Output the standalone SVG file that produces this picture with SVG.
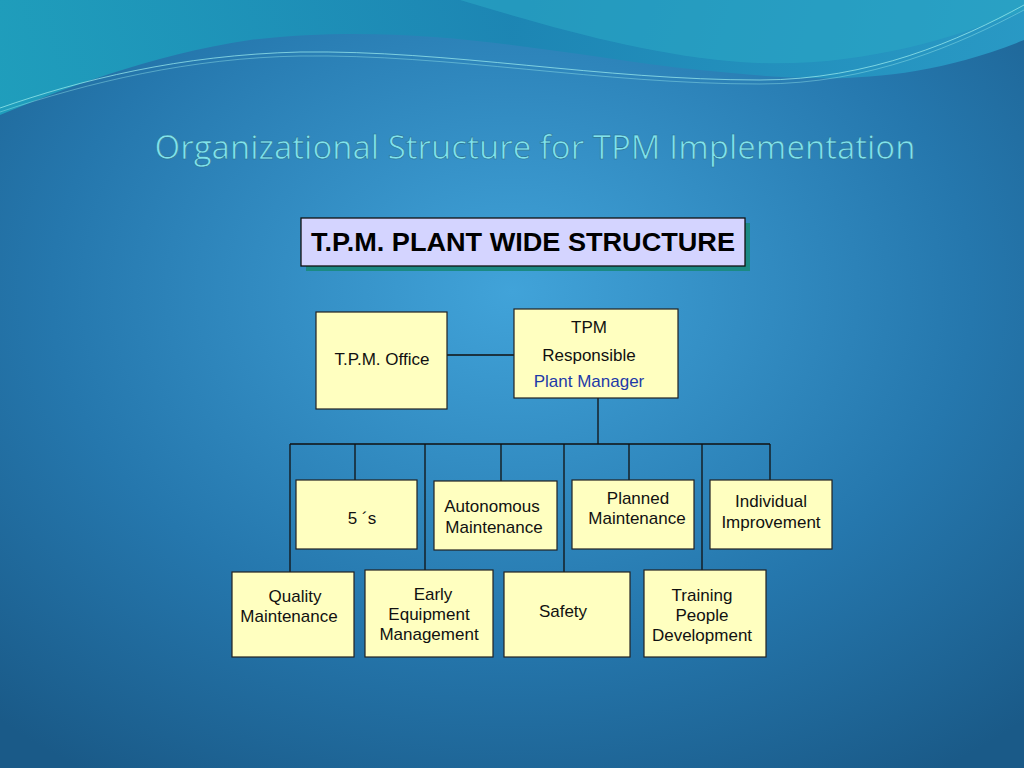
<svg xmlns="http://www.w3.org/2000/svg" width="1024" height="768" viewBox="0 0 1024 768">
<defs>
<radialGradient id="bg" cx="0.5" cy="0.38" r="0.75">
<stop offset="0" stop-color="#41a3d9"/>
<stop offset="0.6" stop-color="#2577ad"/>
<stop offset="1" stop-color="#1a5a88"/>
</radialGradient>
<linearGradient id="wave" x1="0" y1="0" x2="1" y2="0">
<stop offset="0" stop-color="#1fa3bf"/>
<stop offset="0.5" stop-color="#1b86b3"/>
<stop offset="1" stop-color="#2a9ec9"/>
</linearGradient>
<style>
.box{fill:#ffffc0;stroke:#222;stroke-width:1.2}
.t{font-family:"Liberation Sans",Arial,sans-serif;font-size:17px;fill:#111;text-anchor:middle}
.c{stroke:#111;stroke-width:1.3;fill:none}
</style>
</defs>
<rect width="1024" height="768" fill="url(#bg)"/>
<path d="M0,0 H1024 V40 C900,90 800,80 700,70 C560,55 420,20 250,40 C150,55 60,90 0,115 Z" fill="url(#wave)" opacity="0.9"/>
<path d="M460,0 C560,30 650,55 740,62 C850,70 950,40 1024,10 V0 Z" fill="#2aa7c4" opacity="0.6"/>
<path d="M0,108 C80,80 180,55 300,52 C450,50 600,80 760,80 C870,80 960,40 1024,5" stroke="#9ff0f0" stroke-width="1" fill="none" opacity="0.7"/>
<path d="M0,112 C90,82 190,58 300,56 C450,54 600,84 760,84 C870,84 960,44 1024,10" stroke="#9ff0f0" stroke-width="0.8" fill="none" opacity="0.5"/>
<text x="535" y="159" font-family="'Open Sans','Noto Sans',sans-serif" font-size="33" fill="#7fe3ec" text-anchor="middle" stroke="#2a6f90" stroke-width="0.6">Organizational Structure for TPM Implementation</text>
<g id="header">
<rect x="306" y="223" width="444" height="48" fill="#1b8a84"/>
<rect x="301" y="218" width="444" height="48" fill="#d4d4ff" stroke="#111" stroke-width="1.3"/>
<text x="523" y="251" font-family="'Liberation Sans',Arial,sans-serif" font-size="25" font-weight="bold" fill="#000" text-anchor="middle" textLength="424" lengthAdjust="spacingAndGlyphs">T.P.M. PLANT WIDE STRUCTURE</text>
</g>
<g id="connectors">
<path class="c" d="M447,355 H514 M598,398 V444 M290,444 H770 M290,444 V572 M355,444 V480 M425,444 V570 M501,444 V481 M564,444 V572 M629,444 V480 M702,444 V570 M770,444 V480"/>
</g>
<g id="office"><rect class="box" x="316" y="312" width="131" height="97"/><text class="t" x="382" y="365">T.P.M. Office</text></g>
<g id="tpm"><rect class="box" x="514" y="309" width="164" height="89"/>
<text class="t" x="589" y="333" font-size="18">TPM</text>
<text class="t" x="589" y="361" font-size="18">Responsible</text>
<text class="t" x="589" y="387" font-size="18" style="fill:#1e3aa8">Plant Manager</text></g>
<g id="fives"><rect class="box" x="296" y="480" width="121" height="69"/><text class="t" x="362" y="524">5 ´s</text></g>
<g id="autonomous"><rect class="box" x="434" y="481" width="123" height="69"/><text class="t" x="492" y="512">Autonomous</text><text class="t" x="494" y="533">Maintenance</text></g>
<g id="planned"><rect class="box" x="572" y="480" width="122" height="69"/><text class="t" x="638" y="504">Planned</text><text class="t" x="637" y="524">Maintenance</text></g>
<g id="individual"><rect class="box" x="710" y="480" width="122" height="69"/><text class="t" x="771" y="507">Individual</text><text class="t" x="771" y="528">Improvement</text></g>
<g id="quality"><rect class="box" x="232" y="572" width="122" height="85"/><text class="t" x="295" y="602">Quality</text><text class="t" x="289" y="622">Maintenance</text></g>
<g id="early"><rect class="box" x="365" y="570" width="128" height="87"/><text class="t" x="433" y="600">Early</text><text class="t" x="429" y="620">Equipment</text><text class="t" x="429" y="640">Management</text></g>
<g id="safety"><rect class="box" x="504" y="572" width="126" height="85"/><text class="t" x="563" y="617">Safety</text></g>
<g id="training"><rect class="box" x="644" y="570" width="122" height="87"/><text class="t" x="702" y="601">Training</text><text class="t" x="702" y="621">People</text><text class="t" x="702" y="641">Development</text></g>
</svg>
